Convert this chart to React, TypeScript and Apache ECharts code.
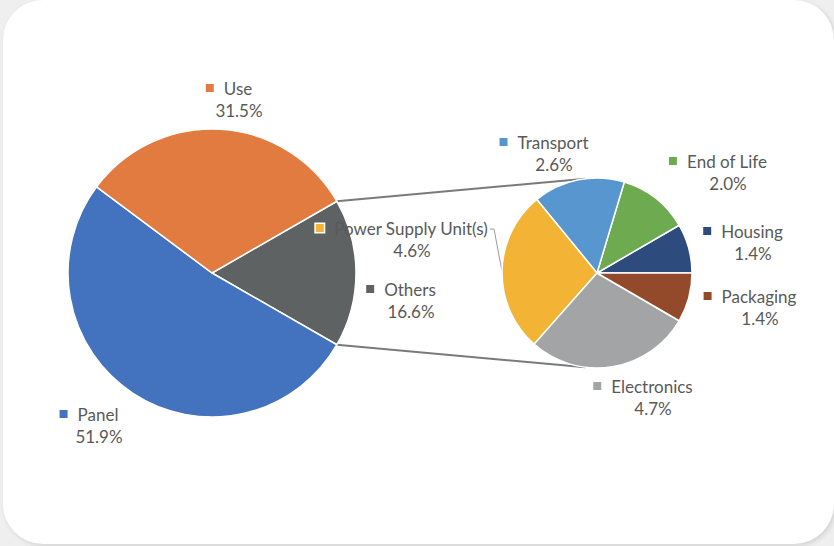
import React, { useEffect, useRef } from "react";
import * as echarts from "echarts";

// Main pie (share of total footprint)
const mainNames = ["Others", "Panel", "Use"];
const mainValues = [16.6, 51.9, 31.5];
const mainColors = ["#5f6263", "#4372be", "#e27b3f"];

// Breakdown of "Others"
const subNames = ["Housing", "End of Life", "Transport", "Power Supply Unit(s)", "Electronics", "Packaging"];
const subValues = [1.4, 2.0, 2.6, 4.6, 4.7, 1.4];
const subColors = ["#2d4b7c", "#6eaa4f", "#5796ce", "#f3b435", "#a3a4a6", "#934a2a"];

// label centres (layout, not data)
const mainLabelPos: Record<string, number[]> = {
  Others: [411, 300],
  Panel: [99, 425],
  Use: [239, 99],
};
const subLabelPos: Record<string, number[]> = {
  Housing: [753, 242],
  "End of Life": [728, 172],
  Transport: [554, 153],
  "Power Supply Unit(s)": [412, 239],
  Electronics: [653, 397],
  Packaging: [760, 307],
};

const C1 = [212, 273];
const R1 = 144;
const C2 = [597, 273];
const R2 = 95;

const FONT = "Lato, 'Open Sans', sans-serif";
const TXT = "#595959";
const FS = 17;

function buildRich(colors: string[]) {
  const rich: any = {
    g: { width: 10, height: 8, align: "center", lineHeight: 22 },
    pad: { width: 20, height: 8, align: "center", lineHeight: 22 },
    n: { fontSize: FS, fontFamily: FONT, color: TXT, align: "center", lineHeight: 22 },
    v: { fontSize: FS, fontFamily: FONT, color: TXT, align: "center", lineHeight: 22 },
  };
  colors.forEach((c, i) => {
    rich["k" + i] = {
      width: 8,
      height: 8,
      backgroundColor: c,
      borderColor: "#ffffff",
      borderWidth: 1.5,
      align: "center",
      lineHeight: 22,
    };
  });
  return rich;
}

function fmt(p: any) {
  return `{k${p.dataIndex}|}{g|}{n|${p.name}}{pad|}\n{v|${Number(p.value).toFixed(1)}%}`;
}

export default function App() {
  const ref = useRef<HTMLDivElement>(null);
  useEffect(() => {
    if (!ref.current) return;
    const chart = echarts.init(ref.current, undefined, { renderer: "svg" });

    const mainTotal = mainValues.reduce((a, b) => a + b, 0);
    const half = (mainValues[0] / mainTotal) * Math.PI; // half angle of "Others" slice
    const p1 = [C1[0] + R1 * Math.cos(half), C1[1] - R1 * Math.sin(half)];
    const p2 = [C1[0] + R1 * Math.cos(half), C1[1] + R1 * Math.sin(half)];
    const tAng = (97 * Math.PI) / 180;
    const q1 = [C2[0] + R2 * Math.cos(tAng), C2[1] - R2 * Math.sin(tAng)];
    const q2 = [C2[0] + R2 * Math.cos(tAng), C2[1] + R2 * Math.sin(tAng)];

    const startMain = (mainValues[0] / mainTotal) * 180;

    // leader line for "Power Supply Unit(s)": anchor at mid-angle of its slice
    const subTotal = subValues.reduce((a, b) => a + b, 0);
    const psuIdx = subNames.indexOf("Power Supply Unit(s)");
    const before = subValues.slice(0, psuIdx).reduce((a, b) => a + b, 0);
    const midAng = ((before + subValues[psuIdx] / 2) / subTotal) * 2 * Math.PI;
    const anchor = [C2[0] + R2 * Math.cos(midAng), C2[1] - R2 * Math.sin(midAng)];
    const psuPos = subLabelPos["Power Supply Unit(s)"];
    const leadStart = [psuPos[0] + 78, psuPos[1] - 10];
    const leadKnee = [leadStart[0] + 4, leadStart[1]];

    chart.setOption({
      animation: false,
      backgroundColor: "transparent",
      textStyle: { fontFamily: FONT },
      graphic: [
        { type: "line", shape: { x1: p1[0], y1: p1[1], x2: q1[0], y2: q1[1] }, style: { stroke: "#7a7a7a", lineWidth: 2 }, z: 1 },
        { type: "line", shape: { x1: p2[0], y1: p2[1], x2: q2[0], y2: q2[1] }, style: { stroke: "#7a7a7a", lineWidth: 2 }, z: 1 },
        {
          type: "polyline",
          shape: { points: [leadStart, leadKnee, anchor] },
          style: { stroke: "#9a9a9a", lineWidth: 1, fill: null },
          z: 1,
        },
      ],
      series: [
        {
          type: "pie",
          center: C1,
          radius: R1,
          startAngle: startMain,
          clockwise: true,
          avoidLabelOverlap: false,
          itemStyle: { borderColor: "#ffffff", borderWidth: 1.5 },
          label: { show: true, formatter: fmt, rich: buildRich(mainColors) },
          labelLine: { show: false },
          labelLayout: (p: any) => {
            const pos = mainLabelPos[mainNames[p.dataIndex]];
            return { x: pos[0], y: pos[1], align: "center", verticalAlign: "middle" };
          },
          emphasis: { disabled: true },
          data: mainNames.map((n, i) => ({ name: n, value: mainValues[i], itemStyle: { color: mainColors[i] } })),
        },
        {
          type: "pie",
          center: C2,
          radius: R2,
          startAngle: 0,
          clockwise: false,
          avoidLabelOverlap: false,
          itemStyle: { borderColor: "#ffffff", borderWidth: 1.5 },
          label: { show: true, formatter: fmt, rich: buildRich(subColors) },
          labelLine: { show: false },
          labelLayout: (p: any) => {
            const pos = subLabelPos[subNames[p.dataIndex]];
            return { x: pos[0], y: pos[1], align: "center", verticalAlign: "middle" };
          },
          emphasis: { disabled: true },
          data: subNames.map((n, i) => ({
            name: n,
            value: subValues[i],
            itemStyle: { color: subColors[i] },
          })),
        },
      ],
    });
    return () => chart.dispose();
  }, []);

  return (
    <div style={{ position: "fixed", left: 0, top: 0, width: 834, height: 546, background: "#efefef", overflow: "hidden" }}>
      <div
        style={{
          position: "absolute",
          left: 3,
          top: 0,
          width: 831,
          height: 544,
          background: "#ffffff",
          borderRadius: 40,
          boxShadow: "2px 2px 5px rgba(0,0,0,0.12)",
        }}
      />
      <div ref={ref} style={{ position: "absolute", left: 0, top: 0, width: 834, height: 546 }} />
    </div>
  );
}
